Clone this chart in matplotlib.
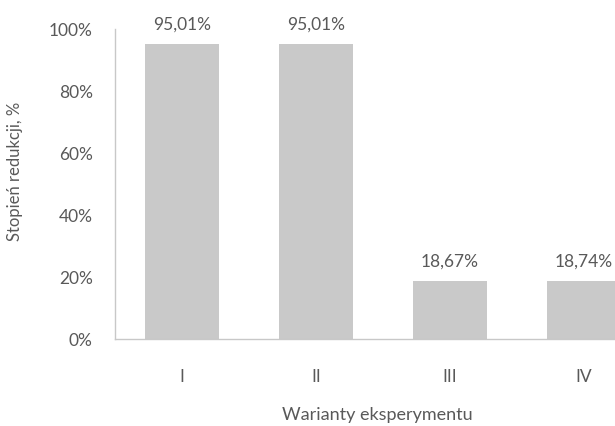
import matplotlib
matplotlib.use("Agg")
import matplotlib.pyplot as plt
from matplotlib.ticker import PercentFormatter

# data
variants = ["I", "II", "III", "IV"]
reduction = [0.9501, 0.9501, 0.1867, 0.1874]
labels = ["95,01%", "95,01%", "18,67%", "18,74%"]
y_ticks = [0.0, 0.2, 0.4, 0.6, 0.8, 1.0]

text_color = "#595959"
bar_color = "#c9c9c9"
axis_color = "#c8c8c8"

plt.rcParams["font.family"] = ["Lato", "DejaVu Sans"]

fig = plt.figure(figsize=(6.15, 4.27), dpi=100)
# the original image is cropped on the right, so the axes runs past the figure edge
ax = fig.add_axes([0.187, 0.204, 0.8715, 0.726])

x = range(len(variants))
bars = ax.bar(x, reduction, width=0.55, color=bar_color)

for rect, lab in zip(bars, labels):
    ax.annotate(lab, (rect.get_x() + rect.get_width() / 2, rect.get_height()),
                xytext=(0, 9), textcoords="offset points",
                ha="center", va="bottom", fontsize=12.5, color=text_color)

ax.set_xlim(-0.5, 3.5)
ax.set_ylim(0, 1.0)
ax.set_yticks(y_ticks)
ax.yaxis.set_major_formatter(PercentFormatter(1.0, decimals=0))
ax.set_xticks(list(x))
ax.set_xticklabels(variants)

ax.tick_params(axis="both", length=0, labelsize=12.5, labelcolor=text_color)
ax.tick_params(axis="y", pad=16)
ax.tick_params(axis="x", pad=21)

for side in ["top", "right"]:
    ax.spines[side].set_visible(False)
for side in ["left", "bottom"]:
    ax.spines[side].set_color(axis_color)
    ax.spines[side].set_linewidth(1.0)

ax.set_ylabel("Stopień redukcji, %", fontsize=12, color=text_color, va="center")
ax.set_xlabel("Warianty eksperymentu", fontsize=13, color=text_color, va="center")
ax.yaxis.set_label_coords(-0.187, 0.542)
ax.xaxis.set_label_coords(0.489, -0.242)

fig.savefig("out.png", dpi=100)
